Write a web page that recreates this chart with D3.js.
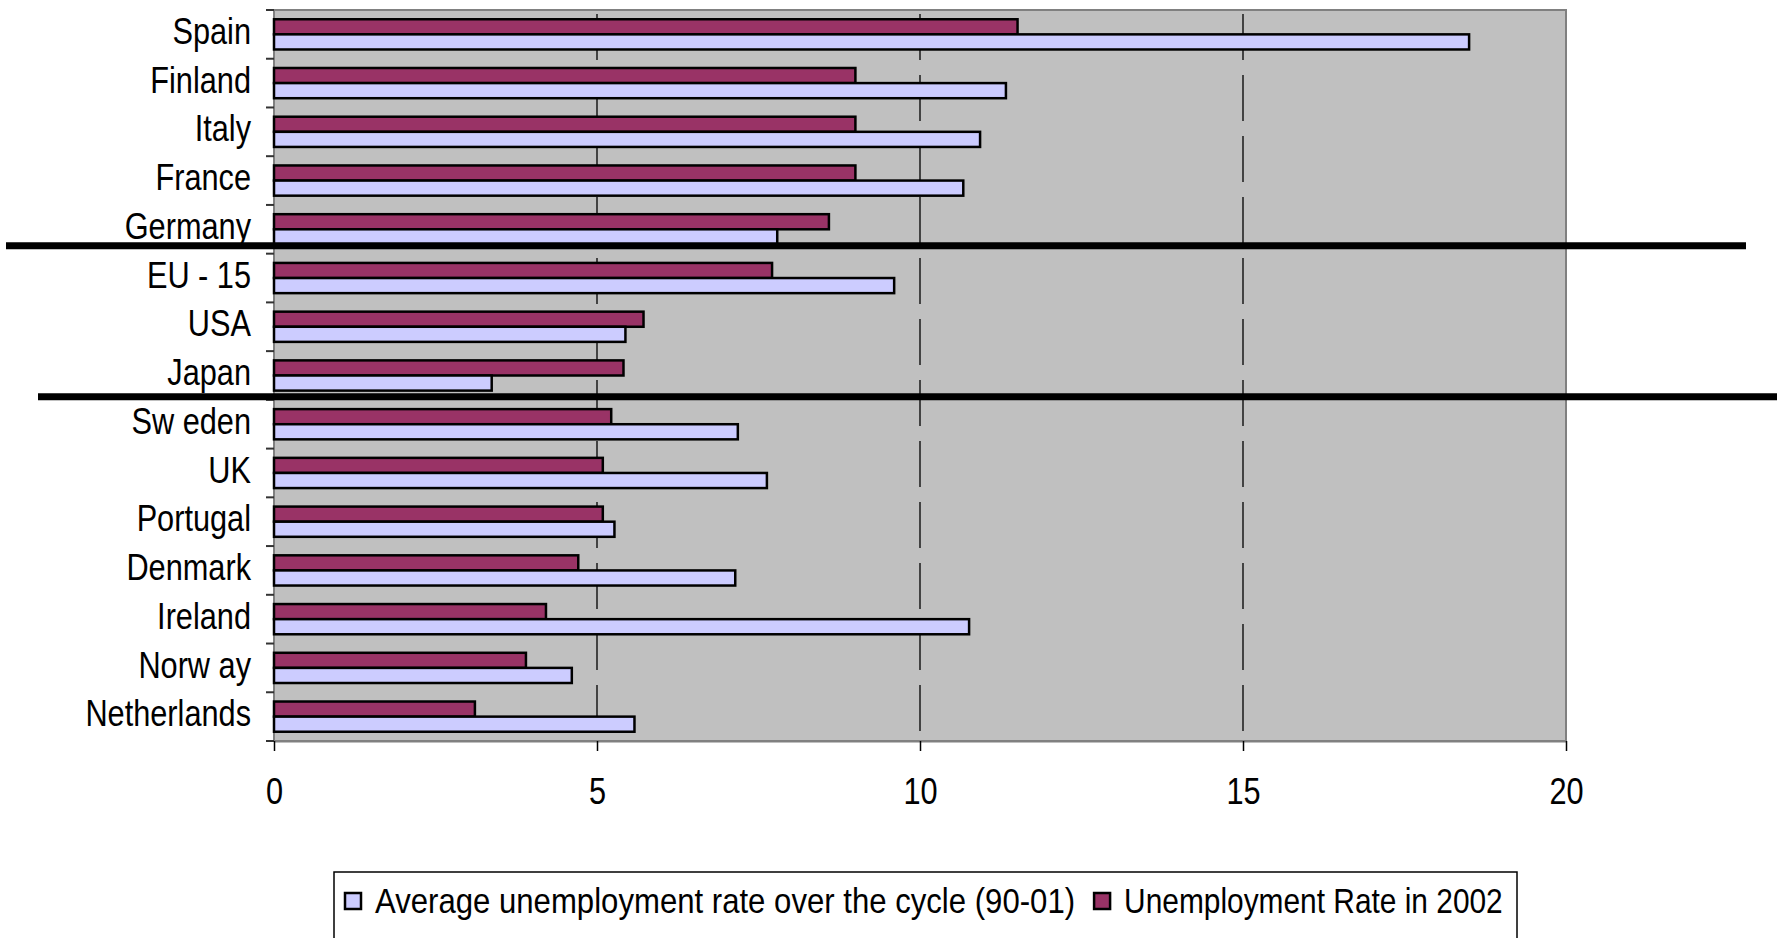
<!DOCTYPE html>
<html>
<head>
<meta charset="utf-8">
<script src="https://cdn.jsdelivr.net/npm/d3@7"></script>
<style>
  body { margin: 0; background: #fff; }
  text { font-family: 'Liberation Sans', Arial, sans-serif; fill: #000; }
</style>
</head>
<body>
<script>
// data
const categories = ["Spain", "Finland", "Italy", "France", "Germany", "EU - 15", "USA", "Japan",
    "Sw eden", "UK", "Portugal", "Denmark", "Ireland", "Norw ay", "Netherlands"];
const avgRate = [18.5, 11.33, 10.93, 10.67, 7.79, 9.6, 5.44, 3.37, 7.18, 7.63, 5.27, 7.14, 10.76, 4.61, 5.58];
const rate2002 = [11.51, 9.0, 9.0, 9.0, 8.59, 7.71, 5.72, 5.41, 5.22, 5.09, 5.09, 4.71, 4.21, 3.9, 3.11];
const xTicks = [0, 5, 10, 15, 20];
const seriesNames = ["Average unemployment rate over the cycle (90-01)", "Unemployment Rate in 2002"];
const seriesColors = ["#ccccff", "#993366"];

const W = 1782, H = 938;
const plot = { left: 274, right: 1566, top: 10, bottom: 741 };

// the original uses a condensed face; squeeze the text horizontally
function squeeze(sel, k) {
    sel.each(function () {
        const t = d3.select(this);
        const x0 = +(t.attr('x') || 0);
        t.attr('x', x0 / k).attr('transform', `scale(${k},1)`);
    });
}

const svg = d3.select('body').append('svg')
    .attr('width', W)
    .attr('height', H);

const x = d3.scaleLinear().domain([0, 20]).range([plot.left, plot.right]);
const y = d3.scaleBand().domain(categories).range([plot.top, plot.bottom])
    .paddingInner(0.38).paddingOuter(0.19);
// 2002 bar on top, average below
const ySub = d3.scaleBand().domain(['r2002', 'avg']).range([0, y.bandwidth()]);

// plot background
svg.append('rect')
    .attr('x', plot.left).attr('y', plot.top)
    .attr('width', plot.right - plot.left).attr('height', plot.bottom - plot.top)
    .attr('fill', '#c0c0c0')
    .attr('stroke', '#808080')
    .attr('stroke-width', 2);

// dashed gridlines
svg.append('g').selectAll('line')
    .data(xTicks.filter(v => v > 0 && v < 20))
    .join('line')
    .attr('x1', d => x(d)).attr('x2', d => x(d))
    .attr('y1', plot.top).attr('y2', plot.bottom)
    .attr('stroke', '#000')
    .attr('stroke-width', 1.3)
    .attr('stroke-dasharray', '46 15')
    .attr('stroke-dashoffset', 57);

// bars
const rows = categories.map((c, i) => ({ c, avg: avgRate[i], r2002: rate2002[i] }));
const groups = svg.append('g').selectAll('g')
    .data(rows)
    .join('g')
    .attr('transform', d => `translate(0,${y(d.c)})`);

groups.append('rect')
    .attr('x', x(0)).attr('y', ySub('r2002'))
    .attr('width', d => x(d.r2002) - x(0)).attr('height', ySub.bandwidth())
    .attr('fill', seriesColors[1]).attr('stroke', '#000').attr('stroke-width', 2.5);

groups.append('rect')
    .attr('x', x(0)).attr('y', ySub('avg'))
    .attr('width', d => x(d.avg) - x(0)).attr('height', ySub.bandwidth())
    .attr('fill', seriesColors[0]).attr('stroke', '#000').attr('stroke-width', 2.5);

// category boundary ticks on the left
const gap = (y.step() - y.bandwidth()) / 2;
const bounds = categories.map(c => y(c) - gap).concat([plot.bottom]);
svg.append('g').selectAll('line')
    .data(bounds)
    .join('line')
    .attr('x1', plot.left - 8).attr('x2', plot.left)
    .attr('y1', d => d).attr('y2', d => d)
    .attr('stroke', '#333').attr('stroke-width', 2);

// category labels
const yAxis = svg.append('g')
    .attr('transform', `translate(${plot.left},0)`)
    .call(d3.axisLeft(y).tickSize(0).tickPadding(23));
yAxis.select('.domain').remove();
yAxis.selectAll('text')
    .attr('font-size', 37)
    .attr('font-family', null)
    .attr('dy', '0.26em')
    .call(squeeze, 0.83);

// x axis
const xAxis = svg.append('g')
    .attr('transform', `translate(0,${plot.bottom})`)
    .call(d3.axisBottom(x).tickValues(xTicks).tickSize(10).tickSizeOuter(0).tickPadding(27));
xAxis.select('.domain').attr('stroke', '#808080').attr('stroke-width', 2);
xAxis.selectAll('.tick line').attr('stroke', '#000').attr('stroke-width', 1.5);
xAxis.selectAll('text').attr('font-size', 37).attr('font-family', null).call(squeeze, 0.83);

// thick group separators
const separators = [
    { after: 'Germany', dy: -8, x1: 6, x2: 1746 },
    { after: 'Japan', dy: -3, x1: 38, x2: 1777 }
];
svg.append('g').selectAll('line')
    .data(separators)
    .join('line')
    .attr('x1', d => d.x1).attr('x2', d => d.x2)
    .attr('y1', d => y(d.after) + y.bandwidth() + gap + d.dy)
    .attr('y2', d => y(d.after) + y.bandwidth() + gap + d.dy)
    .attr('stroke', '#000')
    .attr('stroke-width', 7);

// legend
const legend = svg.append('g');
legend.append('rect')
    .attr('x', 334).attr('y', 872)
    .attr('width', 1183).attr('height', 90)
    .attr('fill', '#fff').attr('stroke', '#000').attr('stroke-width', 1.5);

const legK = [0.865, 0.83];
let lx = 345;
seriesNames.forEach((name, i) => {
    legend.append('rect')
        .attr('x', lx).attr('y', 893)
        .attr('width', 16).attr('height', 16)
        .attr('fill', seriesColors[i]).attr('stroke', '#000').attr('stroke-width', 2.5);
    const t = legend.append('text')
        .attr('x', lx + 30).attr('y', 913)
        .attr('font-size', 36)
        .text(name)
        .call(squeeze, legK[i]);
    lx += 30 + t.node().getComputedTextLength() * legK[i] + 19;
});
</script>
</body>
</html>
